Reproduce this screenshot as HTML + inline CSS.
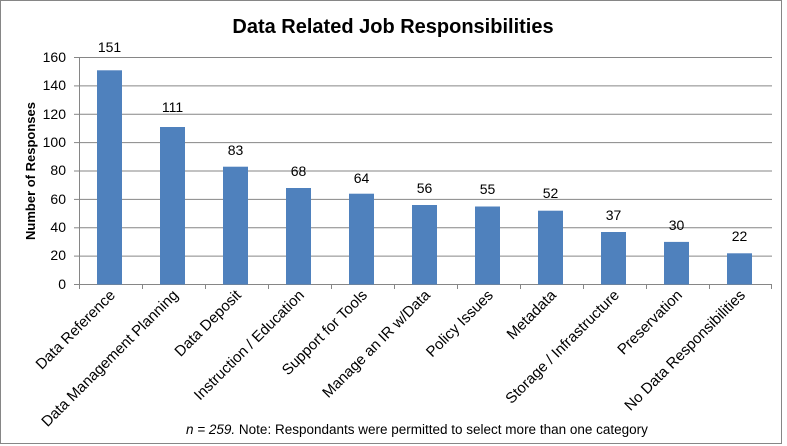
<!DOCTYPE html>
<html><head><meta charset="utf-8"><style>
html,body{margin:0;padding:0;background:#fff;}
svg{display:block;font-family:"Liberation Sans",sans-serif;}
</style></head><body>
<svg width="787" height="446" viewBox="0 0 787 446" xmlns="http://www.w3.org/2000/svg">
<rect x="0.5" y="0.5" width="781" height="443" fill="#fff" stroke="#868686"/>
<text x="393" y="33" text-anchor="middle" font-size="20" font-weight="bold">Data Related Job Responsibilities</text>
<g stroke="#868686" stroke-width="1">
<line x1="79" y1="57.5" x2="772" y2="57.5"/>
<line x1="79" y1="85.9" x2="772" y2="85.9"/>
<line x1="79" y1="114.3" x2="772" y2="114.3"/>
<line x1="79" y1="142.6" x2="772" y2="142.6"/>
<line x1="79" y1="171" x2="772" y2="171"/>
<line x1="79" y1="199.4" x2="772" y2="199.4"/>
<line x1="79" y1="227.8" x2="772" y2="227.8"/>
<line x1="79" y1="256.1" x2="772" y2="256.1"/>
<line x1="79.5" y1="57.5" x2="79.5" y2="284.5"/>
<line x1="74" y1="284.5" x2="772" y2="284.5"/>
<line x1="74" y1="57.5" x2="79" y2="57.5"/><line x1="74" y1="85.9" x2="79" y2="85.9"/><line x1="74" y1="114.3" x2="79" y2="114.3"/><line x1="74" y1="142.6" x2="79" y2="142.6"/><line x1="74" y1="171" x2="79" y2="171"/><line x1="74" y1="199.4" x2="79" y2="199.4"/><line x1="74" y1="227.8" x2="79" y2="227.8"/><line x1="74" y1="256.1" x2="79" y2="256.1"/>
<path d="M79.5 284v5M142.5 284v5M205.5 284v5M268.5 284v5M331.5 284v5M394.5 284v5M457.5 284v5M520.5 284v5M583.5 284v5M646.5 284v5M709.5 284v5M771.5 284v5"/>
</g>
<g font-size="14" text-anchor="end">
<text x="66" y="62">160</text><text x="66" y="90">140</text><text x="66" y="119">120</text><text x="66" y="147">100</text><text x="66" y="175">80</text><text x="66" y="204">60</text><text x="66" y="232">40</text><text x="66" y="260">20</text><text x="66" y="289">0</text>
</g>
<text transform="translate(35,171) rotate(-90)" text-anchor="middle" font-size="13" font-weight="bold">Number of Responses</text>
<g fill="#4f81bd">
<rect x="97" y="70.3" width="25" height="214.2"/>
<rect x="160" y="127" width="25" height="157.5"/>
<rect x="223" y="166.7" width="25" height="117.8"/>
<rect x="286" y="188" width="25" height="96.5"/>
<rect x="349" y="193.7" width="25" height="90.8"/>
<rect x="412" y="205" width="25" height="79.5"/>
<rect x="475" y="206.5" width="25" height="78"/>
<rect x="538" y="210.7" width="25" height="73.8"/>
<rect x="601" y="232" width="25" height="52.5"/>
<rect x="664" y="241.9" width="25" height="42.6"/>
<rect x="727" y="253.3" width="25" height="31.2"/>
</g>
<g font-size="14" text-anchor="middle">
<text x="109.5" y="52">151</text><text x="172.5" y="112">111</text><text x="235.5" y="155">83</text><text x="298.5" y="176">68</text><text x="361.5" y="183">64</text><text x="424.5" y="193">56</text><text x="487.5" y="194">55</text><text x="550.5" y="198">52</text><text x="613.5" y="220">37</text><text x="676.5" y="230">30</text><text x="739.5" y="241">22</text>
</g>
<g font-size="15" text-anchor="end">
<text transform="translate(116,296) rotate(-45)">Data Reference</text>
<text transform="translate(179,296) rotate(-45)">Data Management Planning</text>
<text transform="translate(242,296) rotate(-45)">Data Deposit</text>
<text transform="translate(305,296) rotate(-45)">Instruction / Education</text>
<text transform="translate(368,296) rotate(-45)">Support for Tools</text>
<text transform="translate(431,296) rotate(-45)">Manage an IR w/Data</text>
<text transform="translate(494,296) rotate(-45)">Policy Issues</text>
<text transform="translate(557,296) rotate(-45)">Metadata</text>
<text transform="translate(620,296) rotate(-45)">Storage / Infrastructure</text>
<text transform="translate(683,296) rotate(-45)">Preservation</text>
<text transform="translate(746,296) rotate(-45)">No Data Responsibilities</text>
</g>
<text x="186" y="434" font-size="13.5"><tspan font-style="italic">n = 259.</tspan>   Note: Respondants were permitted to select more than one category</text>
</svg>
</body></html>
